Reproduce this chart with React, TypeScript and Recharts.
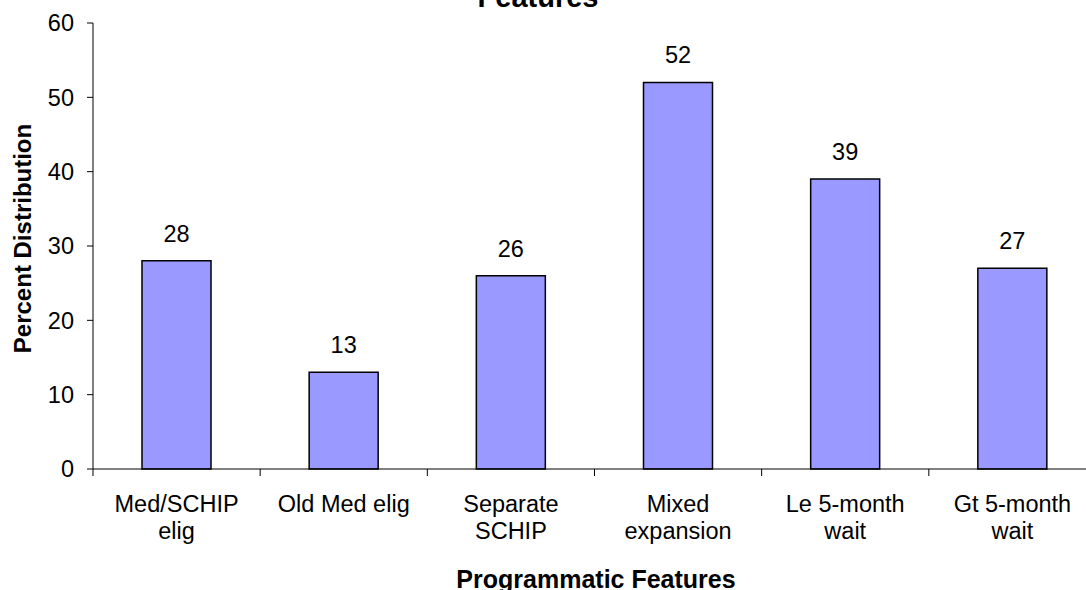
import React from 'react';
import { BarChart, Bar, XAxis, YAxis, LabelList } from 'recharts';

// Categories (line breaks as on the reference axis)
const categories = [
  'Med/SCHIP\nelig',
  'Old Med elig',
  'Separate\nSCHIP',
  'Mixed\nexpansion',
  'Le 5-month\nwait',
  'Gt 5-month\nwait',
];
const percentValues = [28, 13, 26, 52, 39, 27];
const yTicks = [0, 10, 20, 30, 40, 50, 60];

const data = categories.map((name, i) => ({ name, value: percentValues[i] }));

const FONT = '"Liberation Sans", Arial, sans-serif';
const CHART_W = 1100;
const CHART_H = 590;
const Y_AXIS_W = 93;
const MARGIN = { top: 23, right: 4, left: 0, bottom: 0 };

const CategoryTick = (props: any) => {
  const { x, y, payload } = props;
  const half =
    payload && typeof payload.offset === 'number' && payload.offset > 0
      ? payload.offset
      : (CHART_W - MARGIN.right - Y_AXIS_W) / categories.length / 2;
  const lines = String(payload.value).split('\n');
  return (
    <g>
      <line x1={x - half} x2={x - half} y1={y} y2={y + 7} stroke="#000" strokeWidth={1} />
      <text x={x} y={y} textAnchor="middle" fontSize={23.5} fontFamily={FONT} fill="#000">
        {lines.map((l, i) => (
          <tspan key={i} x={x} dy={i === 0 ? 43 : 27}>
            {l}
          </tspan>
        ))}
      </text>
    </g>
  );
};

const App: React.FC = () => {
  return (
    <div
      style={{
        position: 'absolute',
        left: 0,
        top: 0,
        width: 1086,
        height: 590,
        overflow: 'hidden',
        background: '#fff',
      }}
    >
      <div
        style={{
          position: 'absolute',
          left: 338,
          width: 400,
          top: -17.5,
          textAlign: 'center',
          fontFamily: FONT,
          fontWeight: 'bold',
          fontSize: 29,
          lineHeight: '29px',
          color: '#000',
        }}
      >
        Features
      </div>
      <BarChart width={CHART_W} height={CHART_H} data={data} margin={MARGIN}>
        <XAxis
          dataKey="name"
          height={121}
          tickLine={false}
          tickSize={0}
          tickMargin={0}
          axisLine={{ stroke: '#000' }}
          interval={0}
          tick={<CategoryTick />}
          label={{
            value: 'Programmatic Features',
            position: 'insideBottom',
            offset: 2,
            dx: 1.5,
            fontSize: 25,
            fontWeight: 'bold',
            fontFamily: FONT,
            fill: '#000',
          }}
        />
        <YAxis
          width={Y_AXIS_W}
          domain={[0, 60]}
          ticks={yTicks}
          interval={0}
          tickSize={6}
          tickMargin={13}
          axisLine={{ stroke: '#000' }}
          tickLine={{ stroke: '#000' }}
          tick={{ fontSize: 23.5, fontFamily: FONT, fill: '#000' }}
          label={{
            value: 'Percent Distribution',
            angle: -90,
            position: 'center',
            dx: -24.5,
            dy: -7.5,
            fontSize: 24,
            fontWeight: 'bold',
            fontFamily: FONT,
            fill: '#000',
          }}
        />
        <Bar
          dataKey="value"
          fill="#9999FF"
          stroke="#000"
          strokeWidth={1.5}
          barSize={69}
          isAnimationActive={false}
        >
          <LabelList
            dataKey="value"
            position="top"
            offset={19}
            fontSize={23.5}
            fontFamily={FONT}
            fill="#000"
          />
        </Bar>
      </BarChart>
    </div>
  );
};

export default App;
